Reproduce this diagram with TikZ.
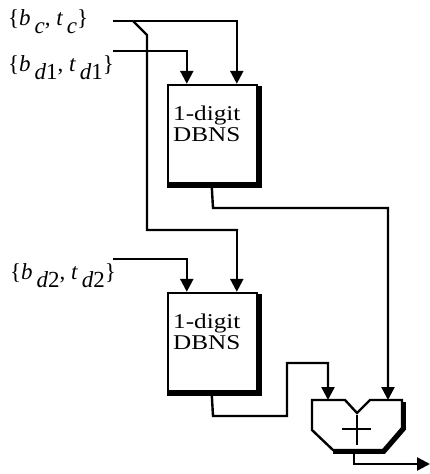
\documentclass[tikz,border=0pt]{standalone}
\usepackage{fontspec}
\setmainfont{Liberation Serif}
\usetikzlibrary{arrows.meta,calc}
\begin{document}
\begin{tikzpicture}[x=1pt,y=-1pt,
  wire/.style={line width=2.4pt},
  arr/.style={wire,-{Triangle[length=13pt,width=13pt]}},
  blk/.style={draw,line width=2.4pt,minimum width=89pt,minimum height=98pt,inner sep=0pt},
  shad/.style={line width=4.5pt},
  lab/.style={font=\fontsize{23}{24}\selectfont,inner sep=0pt,anchor=base west},
  blktxt/.style={font=\fontsize{21}{18}\selectfont,inner sep=0pt,anchor=base west}
]
\useasboundingbox (0,0) rectangle (430,474);
% blocks
\node[blk] (b1) at (212.5,134) {};
\node[blk] (b2) at (212.5,342) {};
\draw[shad] ($(b1.north east)+(1.5,2)$) -- ($(b1.south east)+(1.5,1.5)$) -- ($(b1.south west)+(0,1.5)$);
\draw[shad] ($(b2.north east)+(1.5,2)$) -- ($(b2.south east)+(1.5,1.5)$) -- ($(b2.south west)+(0,1.5)$);
\node[blktxt] (t1a) at (173,120) {\scalebox{1.2}[1]{1-digit}};
\node[blktxt] (t1b) at (173,141) {\scalebox{1.2}[1]{DBNS}};
\node[blktxt] (t2a) at (173,328) {\scalebox{1.2}[1]{1-digit}};
\node[blktxt] (t2b) at (173,349) {\scalebox{1.2}[1]{DBNS}};
% labels
\node[lab] (lc) at (8,25) {\{\textit{b}\,\raisebox{-.35em}{\textit{c}}, \textit{t}\,\raisebox{-.35em}{\textit{c}}\}};
\node[lab] (ld1) at (8,71) {\{\textit{b}\,\raisebox{-.35em}{\textit{d}1}, \textit{t}\,\raisebox{-.35em}{\textit{d}1}\}};
\node[lab] (ld2) at (10,279) {\{\textit{b}\,\raisebox{-.35em}{\textit{d}2}, \textit{t}\,\raisebox{-.35em}{\textit{d}2}\}};
% coordinates
\coordinate (cin) at (113,21);
\coordinate (d1in) at (113,51);
\coordinate (d2in) at (113,259);
\coordinate (b1a) at ($(b1.north west)+(20,0)$);
\coordinate (b1b) at ($(b1.north west)+(70,0)$);
\coordinate (b2a) at ($(b2.north west)+(20,0)$);
\coordinate (b2b) at ($(b2.north west)+(70,0)$);
\coordinate (b1o) at ($(b1.south west)+(45,3)$);
\coordinate (b2o) at ($(b2.south west)+(45,3)$);
% adder
\coordinate (addL) at (328,400);
\coordinate (addR) at (388,400);
\coordinate (addO) at (354,451);
\coordinate (out) at (430,464);
\draw[wire,line join=miter] (312,400) -- (345,400) -- (357,413) -- (370,400) -- (402,400) -- (402,428) -- (383,450) -- (333,450) -- (312,430) -- cycle;
\draw[shad] (403.5,402) -- (403.5,429) -- (384,451.5) -- (333,451.5);
\draw[line width=1.6pt] (342,429) -- (371,429) (357,415) -- (357,445);
% wires
\draw[arr] (cin) -- (b1b |- cin) -- (b1b);
\draw[wire] (133,21) -- (147,35) -- (147,230) -- (238,230);
\draw[arr] (236.8,230) -- (b2b);
\draw[arr] (d1in) -- (b1a |- d1in) -- (b1a);
\draw[arr] (d2in) -- (b2a |- d2in) -- (b2a);
\draw[arr] (b1o) -- (213,208) -- (addR |- 0,208) -- (addR);
\draw[arr] (b2o) -- (213,416) -- (287,416) -- (287,363) -- (addL |- 0,363) -- (addL);
\draw[arr] (addO) -- (354,464) -- (out);
\end{tikzpicture}
\end{document}
